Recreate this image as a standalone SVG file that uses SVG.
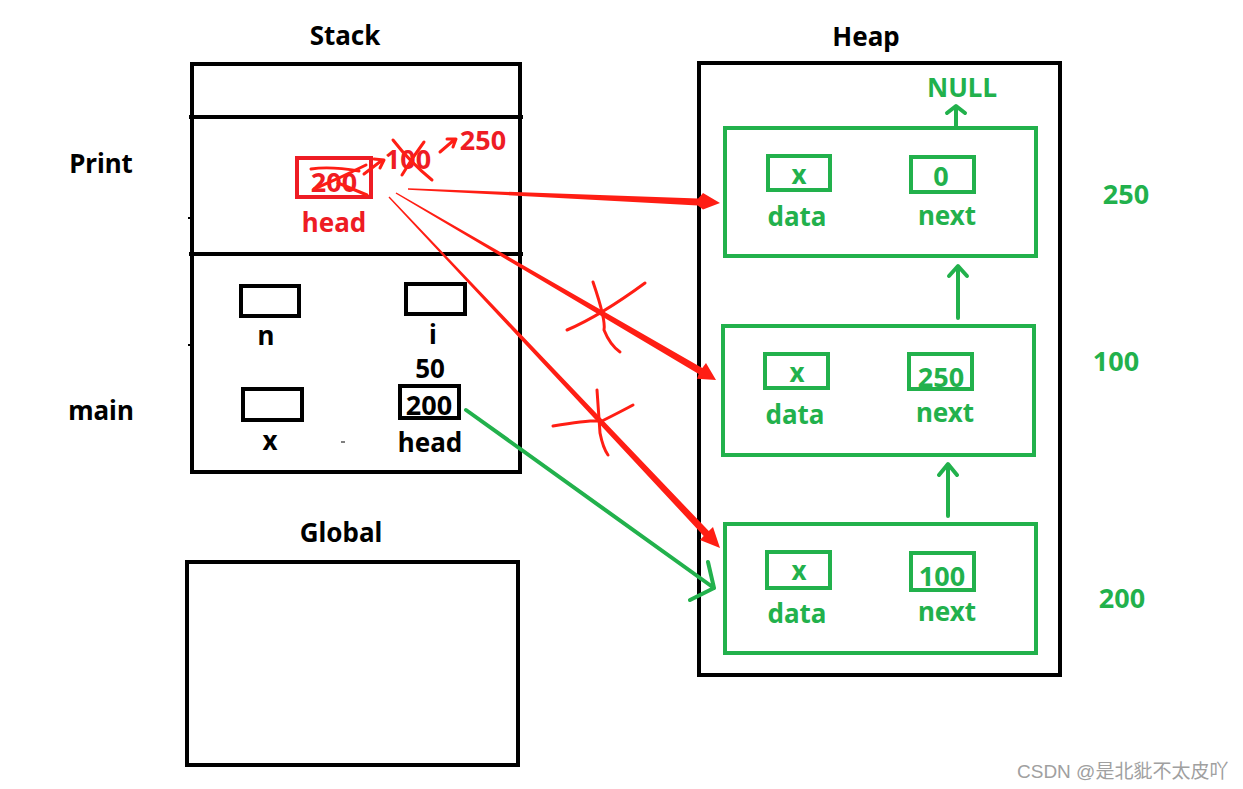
<svg xmlns="http://www.w3.org/2000/svg" width="1243" height="789" viewBox="0 0 1243 789">
<style>
text{font-family:"Noto Sans","Open Sans","Liberation Sans",sans-serif;font-weight:bold;font-size:26px;text-anchor:middle}
.k{fill:#000}
.r{fill:#ee1c24}
.g{fill:#22b14c}
.num{font-size:27px}
.box{fill:none;stroke:#000;stroke-width:4}
.gbox{fill:none;stroke:#22b14c;stroke-width:4}
.rs{fill:none;stroke:#ff1e14;stroke-linecap:round;stroke-linejoin:round}
.gs{fill:none;stroke:#22b14c;stroke-width:4;stroke-linecap:round;stroke-linejoin:round}
.wm{font-family:"Liberation Sans","Noto Sans CJK SC",sans-serif;font-weight:normal;font-size:19px;fill:#a0a0a0;text-anchor:start}
</style>
<rect width="1243" height="789" fill="#fff"/>

<g id="stack">
<text class="k" x="345" y="45">Stack</text>
<rect class="box" x="192" y="64" width="328" height="408"/>
<line x1="189" y1="117" x2="523" y2="117" stroke="#000" stroke-width="4"/>
<line x1="189" y1="254" x2="523" y2="254" stroke="#000" stroke-width="4"/>
<line x1="188" y1="218" x2="192" y2="218" stroke="#000" stroke-width="2"/>
<line x1="188" y1="345" x2="192" y2="345" stroke="#000" stroke-width="2"/>
<text class="k" x="101" y="173">Print</text>
<text class="k" x="101" y="420">main</text>
</g>

<g id="print-head">
<rect x="297" y="158" width="74" height="39" fill="none" stroke="#ee1c24" stroke-width="4"/>
<text class="r num" x="334" y="192">200</text>
<path class="rs" stroke-width="3" d="M311 169 Q330 166 359 171 M314 189 Q340 178 366 165 M338 183 Q355 190 367 195"/>
<text class="r num" x="408" y="169">100</text>
<path class="rs" stroke-width="3" d="M393 140 Q410 162 432 180 M424 142 Q412 158 402 175"/>
<text class="r num" x="483" y="150">250</text>
<text class="r" x="334" y="232">head</text>
<path class="rs" stroke-width="3" d="M364 174 L381 161 M374 159 L384 160 L380 168"/>
<path class="rs" stroke-width="3" d="M440 152 L454 140 M447 139 L456 139 L453 147"/>
</g>

<g id="main-vars">
<rect class="box" x="241" y="286" width="58" height="30"/>
<text class="k" x="266" y="345">n</text>
<rect class="box" x="406" y="284" width="59" height="30"/>
<text class="k" x="433" y="344">i</text>
<text class="k" x="430" y="378" font-size="24">50</text>
<rect class="box" x="243" y="389" width="59" height="31"/>
<text class="k" x="270" y="450">x</text>
<rect class="box" x="400" y="386" width="59" height="32"/>
<text class="k num" x="429" y="415">200</text>
<text class="k" x="430" y="452">head</text>
<line x1="341" y1="442" x2="345" y2="442" stroke="#000" stroke-width="1"/>
</g>

<g id="global">
<text class="k" x="341" y="542">Global</text>
<rect class="box" x="187" y="562" width="331" height="203"/>
</g>

<g id="heap">
<text class="k" x="866" y="46">Heap</text>
<rect class="box" x="699" y="63" width="361" height="612"/>
</g>

<g id="node-250">
<rect class="gbox" x="725" y="128" width="311" height="128"/>
<rect class="gbox" x="768" y="156" width="62" height="34"/>
<text class="g" x="799" y="184">x</text>
<text class="g" x="797" y="226">data</text>
<rect class="gbox" x="911" y="157" width="63" height="35"/>
<text class="g num" x="941" y="186">0</text>
<text class="g" x="947" y="225">next</text>
<text class="g" x="962" y="97">NULL</text>
<text class="g num" x="1126" y="204">250</text>
</g>

<g id="node-100">
<rect class="gbox" x="723" y="326" width="311" height="129"/>
<rect class="gbox" x="765" y="354" width="63" height="34"/>
<text class="g" x="797" y="382">x</text>
<text class="g" x="795" y="424">data</text>
<rect class="gbox" x="909" y="354" width="63" height="35"/>
<text class="g num" x="941" y="387">250</text>
<text class="g" x="945" y="422">next</text>
<text class="g num" x="1116" y="371">100</text>
</g>

<g id="node-200">
<rect class="gbox" x="725" y="524" width="311" height="129"/>
<rect class="gbox" x="767" y="552" width="63" height="36"/>
<text class="g" x="799" y="580">x</text>
<text class="g" x="797" y="623">data</text>
<rect class="gbox" x="911" y="553" width="63" height="37"/>
<text class="g num" x="942" y="586">100</text>
<text class="g" x="947" y="621">next</text>
<text class="g num" x="1122" y="608">200</text>
</g>

<g id="connectors">
<path class="gs" d="M956 128 L956 108 M947 113 L956 106 L965 113"/>
<path class="gs" d="M958 318 L958 267 M949 276 L958 266 L967 276"/>
<path class="gs" d="M948 516 L948 465 M939 475 L948 464 L957 475"/>
<path class="gs" d="M466 410 L714 588 M690 600 L714 588 L708 562"/>
<polygon fill="#ff1e14" points="408,188.3 698.2,198.5 703,193 720,203 703,209.5 697.8,205.5 408,189.8"/>
<polygon fill="#ff1e14" points="396.4,192.4 702.3,367.9 706,363 716,380 697,378.7 698.7,373.9 395.6,193.6"/>
<polygon fill="#ff1e14" points="389.5,196.5 708.8,531.1 713,527 720,548 700,540 703.7,535.9 388.5,197.5"/>
<path class="rs" stroke-width="3" d="M567 330 Q600 316 645 283 M593 282 Q606 320 604 330 Q610 345 620 352"/>
<path class="rs" stroke-width="3" d="M553 426 Q590 420 602 421 Q620 412 633 405 M597 390 Q599 420 600 433 Q603 448 608 455"/>
</g>

<text class="wm" x="1017" y="778">CSDN @是北豼不太皮吖</text>
</svg>
